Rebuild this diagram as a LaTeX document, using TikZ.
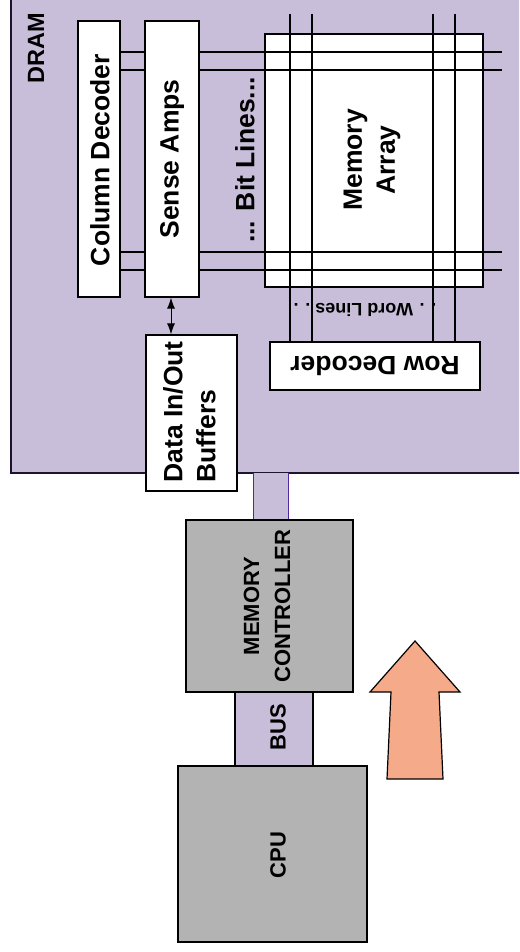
\documentclass[tikz,border=0pt]{standalone}
\usepackage{fontspec}
\setmainfont{Liberation Sans}
\usetikzlibrary{arrows.meta}
\definecolor{lav}{RGB}{200,190,218}
\definecolor{dramedge}{RGB}{30,20,50}
\definecolor{busedge}{RGB}{80,40,160}
\definecolor{chipgray}{RGB}{179,179,179}
\definecolor{salmon}{RGB}{245,170,137}
\begin{document}
\begin{tikzpicture}[x=1pt,y=-1pt,
  box/.style={draw=black, line width=1.2pt, fill=white, inner sep=0pt},
  chip/.style={draw=black, line width=1.5pt, fill=chipgray, inner sep=0pt},
  buspart/.style={draw=black, line width=1.2pt, fill=lav, inner sep=0pt},
  bigtxt/.style={font=\bfseries\fontsize{26.5}{33}\selectfont, align=center, inner sep=0pt},
  midtxt/.style={font=\bfseries\fontsize{22}{31}\selectfont, align=center, inner sep=0pt},
  smalltxt/.style={font=\bfseries\fontsize{18}{22}\selectfont, inner sep=0pt},
  gridline/.style={draw=black, line width=1.1pt}
]
\useasboundingbox (0,0) rectangle (519,952);
\begin{scope}
\clip (0,0) rectangle (519,952);
% DRAM background
\fill[lav] (11,-5) rectangle (530,473);
\draw[dramedge, line width=1.3pt] (11,-5) -- (11,473) -- (530,473);
% bus strip between DRAM and memory controller
\node[fill=lav, draw=none, minimum width=34pt, minimum height=47pt, inner sep=0pt] (dbus) at (271,496.5) {};
\draw[busedge, line width=1.2pt] (dbus.north west) -- (dbus.south west);
\draw[busedge, line width=1.2pt] (dbus.north east) -- (dbus.south east);
\end{scope}
\node[bigtxt, font=\bfseries\fontsize{23.5}{28}\selectfont, rotate=90] (dramlbl) at (36,48) {DRAM};
% memory array
\node[box, minimum width=218pt, minimum height=253pt] (memarr) at (374,160.5) {};
\node[bigtxt, rotate=90] (memarrtxt) at (372,160) {Memory\\Array};
% horizontal bit lines
\coordinate (hend) at (502,0);
\foreach \yy in {52,70,252,270}
  \draw[gridline] (120,\yy) -- (hend |- 0,\yy);
% row decoder
\node[box, minimum width=210pt, minimum height=48pt] (rowdec) at (375,366) {};
\node[bigtxt, rotate=180] (rowdectxt) at (rowdec.center) {Row Decoder};
% vertical word lines
\foreach \xx in {290,312,433,455}
  \draw[gridline] (\xx,14) -- (\xx,0 |- rowdec.north);
\node[smalltxt, rotate=180] (wordlines) at (365,310) {. . Word Lines . .};
% sense amps and column decoder
\node[box, minimum width=54pt, minimum height=276pt] (sense) at (172,159) {};
\node[bigtxt, rotate=90] (sensetxt) at (sense.center) {Sense Amps};
\node[box, minimum width=42pt, minimum height=276pt] (coldec) at (99,159) {};
\node[bigtxt, rotate=90] (coldectxt) at (100,160) {Column Decoder};
\node[bigtxt, rotate=90] (bitlines) at (245,160) {... Bit Lines...};
% data buffers
\node[box, minimum width=91pt, minimum height=156pt] (databuf) at (191.5,413) {};
\node[bigtxt, align=left, rotate=90] (databuftxt) at (189.5,412) {Data In/Out\\Buffers};
\draw[line width=1pt, {Latex[length=11pt,width=8pt]}-{Latex[length=11pt,width=8pt]}] (sense.south -| 171,0) -- (databuf.north -| 171,0);
% memory controller, bus, CPU
\node[chip, minimum width=167pt, minimum height=172pt] (mc) at (269.5,606) {};
\node[midtxt, rotate=90] (mctxt) at (267,606) {MEMORY\\CONTROLLER};
\node[buspart, minimum width=78pt, minimum height=74pt] (bus) at (274,729) {};
\node[midtxt, rotate=90] (bustxt) at (278,727) {BUS};
\node[chip, minimum width=189pt, minimum height=176pt] (cpu) at (272.5,854) {};
\node[midtxt, rotate=90] (cputxt) at (278,855) {CPU};
% big arrow
\draw[fill=salmon, line width=1.2pt, line join=miter]
  (415,641) -- (460,692) -- (439,692) -- (443,779) -- (387,779) -- (391,692) -- (370,692) -- cycle;
\end{tikzpicture}
\end{document}
